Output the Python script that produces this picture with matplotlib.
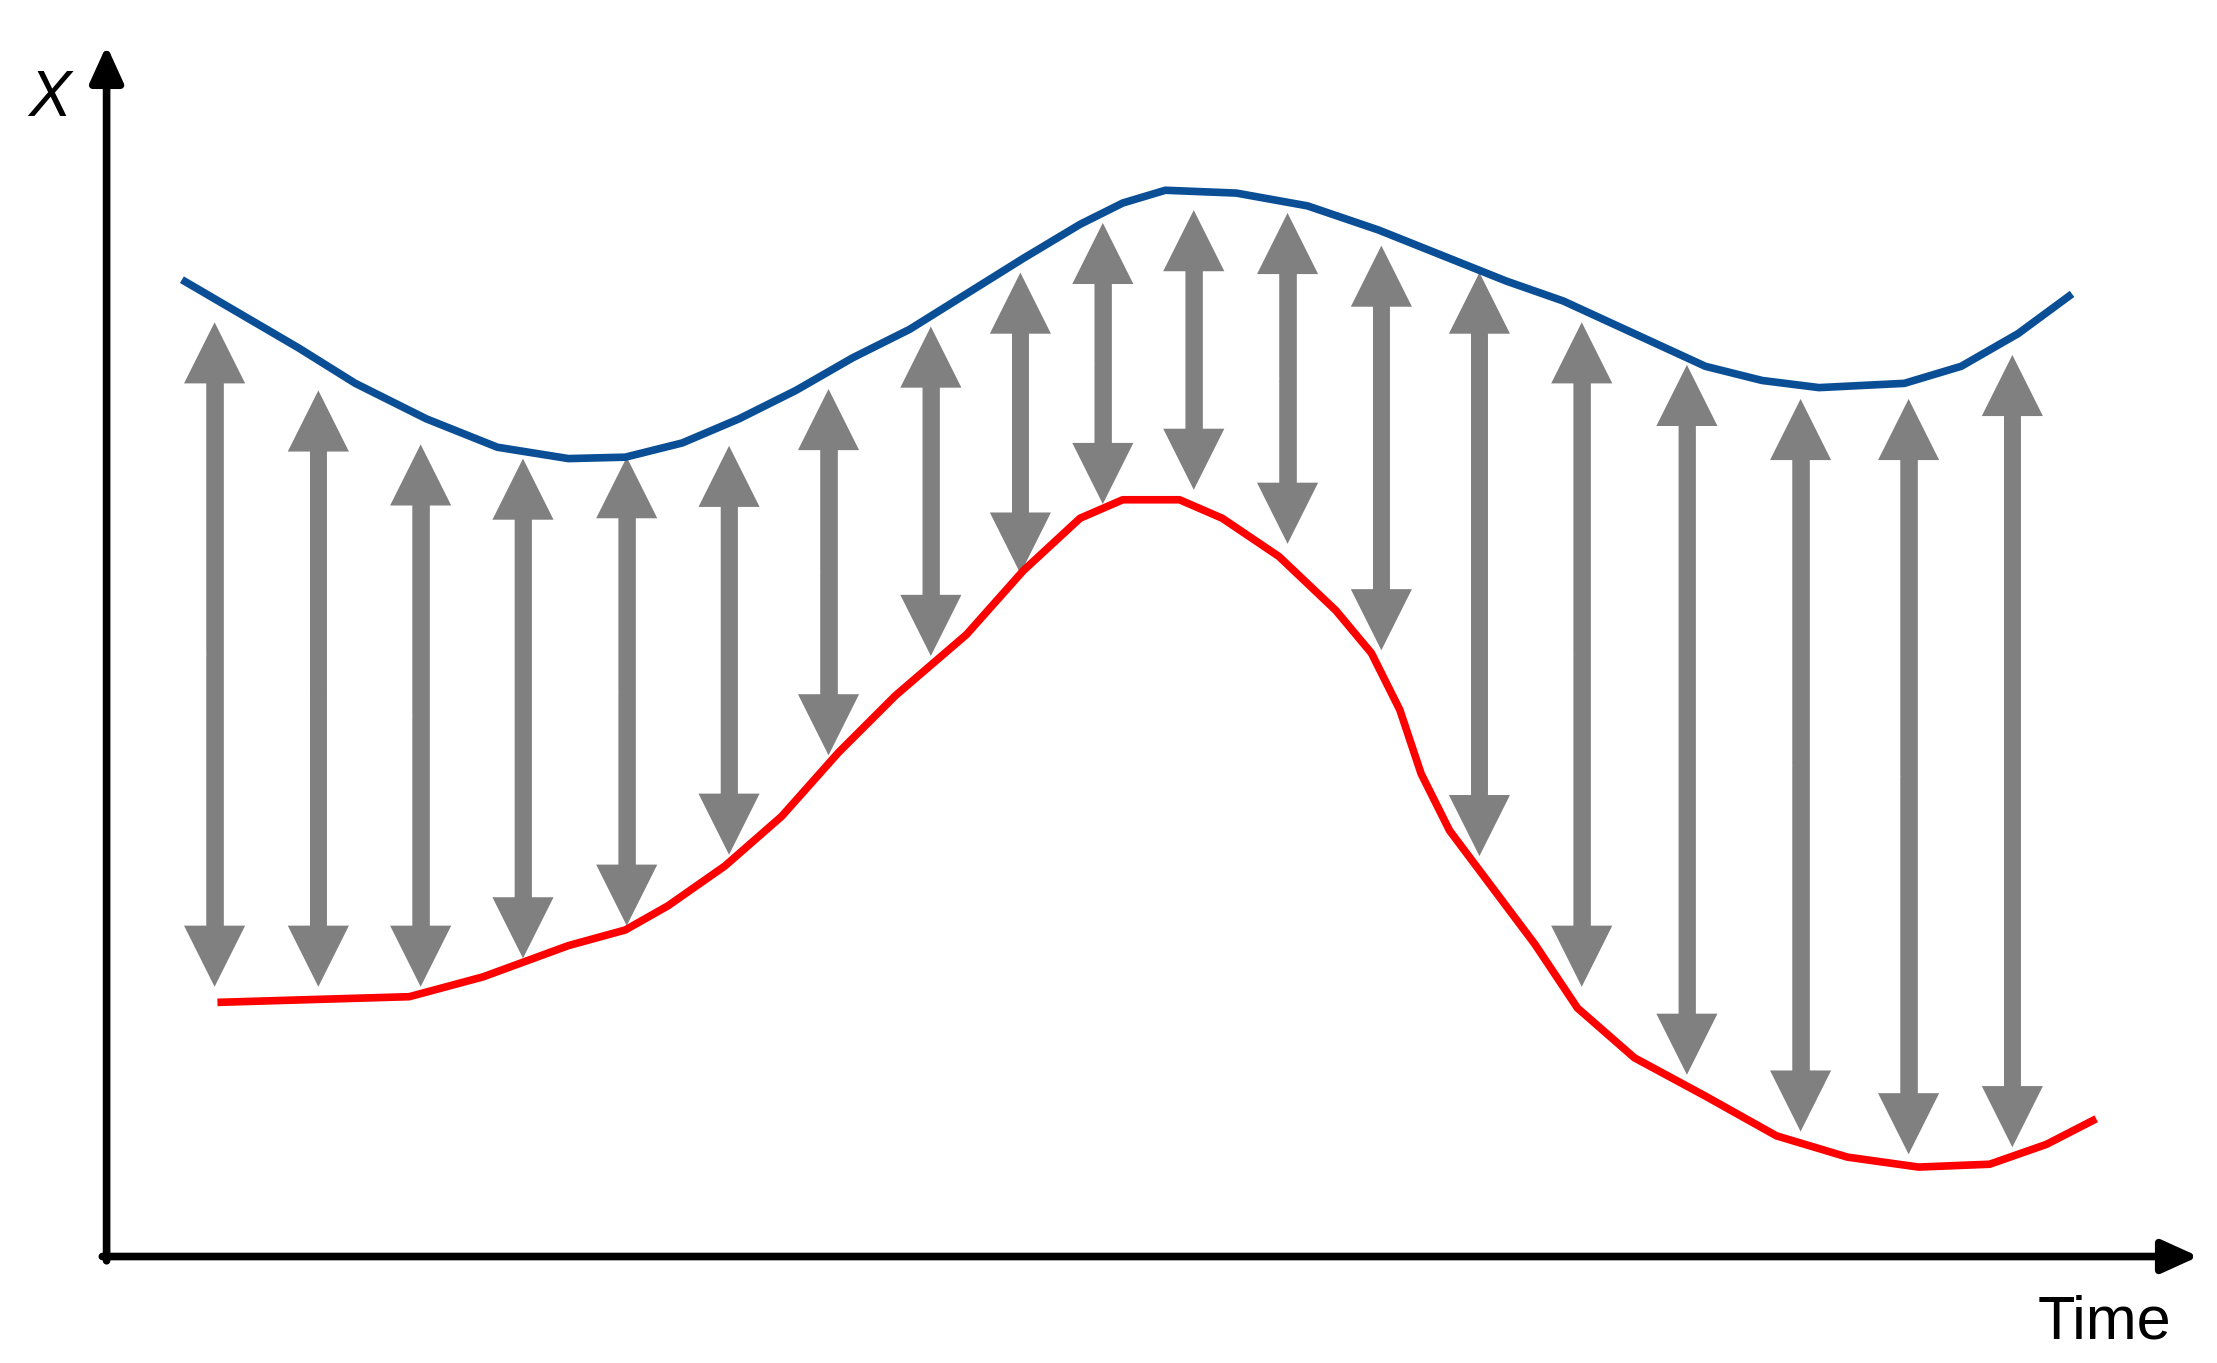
"""Sketch of two curves with grey double-headed arrows between them."""

import matplotlib
matplotlib.use("Agg")
import matplotlib.pyplot as plt
from matplotlib.patches import FancyArrowPatch

# Curve points (x, y in picture units, y grows downward)
BLUE_X = [128, 210, 250, 300, 350, 400, 440, 480, 520, 560, 600, 640, 680, 720,
          760, 790, 820, 870, 920, 970, 1020, 1060, 1100, 1150, 1200, 1240, 1280,
          1340, 1380, 1420, 1458]
BLUE_Y = [197, 245, 270, 295, 315, 323, 322, 312, 295, 275, 252, 232, 207, 182,
          158, 143, 134, 136, 145, 162, 182, 198, 212, 235, 258, 268, 273,
          270, 258, 235, 207]

RED_X = [153, 220, 288, 340, 400, 440, 470, 510, 550, 590, 630, 680, 720, 760,
         790, 830, 860, 900, 940, 965, 985, 1000, 1020, 1050, 1080, 1110, 1150,
         1200, 1250, 1300, 1350, 1400, 1440, 1475]
RED_Y = [706, 704, 702, 688, 666, 655, 638, 610, 575, 530, 490, 447, 402, 365,
         352, 352, 365, 392, 430, 460, 500, 545, 585, 625, 665, 710, 745,
         772, 800, 815, 822, 820, 806, 788]

# Double arrows: x position, top tip, bottom tip
ARROW_X = [151, 224, 296, 368, 441, 513, 583, 655, 718, 776, 840, 906, 972,
           1041, 1113, 1187, 1267, 1343, 1416]
ARROW_TOP = [227, 275, 313, 323, 322, 314, 274, 230, 192, 157, 148, 150, 173,
             192, 227, 257, 281, 281, 250]
ARROW_BOTTOM = [695, 695, 695, 675, 652, 602, 532, 462, 404, 355, 345, 383, 458,
                603, 695, 757, 797, 813, 808]

GREY = "#808080"


def main():
    fig = plt.figure(figsize=(22.17, 13.63), dpi=100)
    ax = fig.add_axes([0, 0, 1, 1])
    ax.set_xlim(0, 1560)
    ax.set_ylim(960, 0)
    ax.axis("off")

    # grey double arrows, each drawn as two halves from the middle
    style = "simple,head_length=44,head_width=44,tail_width=12"
    for x, top, bot in zip(ARROW_X, ARROW_TOP, ARROW_BOTTOM):
        mid = (top + bot) / 2
        # plain shaft under the heads hides the seam in the middle
        ax.plot([x, x], [top + 40, bot - 40], color=GREY, lw=12,
                solid_capstyle="butt")
        for tip in (top, bot):
            ax.add_patch(FancyArrowPatch((x, mid), (x, tip), arrowstyle=style,
                                         mutation_scale=1, color=GREY, lw=0,
                                         shrinkA=0, shrinkB=0))

    ax.plot(BLUE_X, BLUE_Y, color="#0a4f96", lw=5.5, solid_capstyle="butt",
            solid_joinstyle="round")
    ax.plot(RED_X, RED_Y, color="#ff0000", lw=5.5, solid_capstyle="butt",
            solid_joinstyle="round")

    # axes with arrow heads
    ax_style = "-|>,head_length=22,head_width=10"
    ax.add_patch(FancyArrowPatch((75, 888), (75, 32), arrowstyle=ax_style,
                                 mutation_scale=1, color="black", lw=5.5,
                                 shrinkA=0, shrinkB=0))
    ax.add_patch(FancyArrowPatch((72, 885), (1547, 885), arrowstyle=ax_style,
                                 mutation_scale=1, color="black", lw=5.5,
                                 shrinkA=0, shrinkB=0))

    ax.text(35, 70, "X", fontsize=46, style="italic", ha="center", va="center",
            family="Liberation Sans")
    ax.text(1528, 932, "Time", fontsize=44, ha="right", va="center",
            family="Liberation Sans")

    fig.savefig("out.png", dpi=100)
    plt.close(fig)


if __name__ == "__main__":
    main()
